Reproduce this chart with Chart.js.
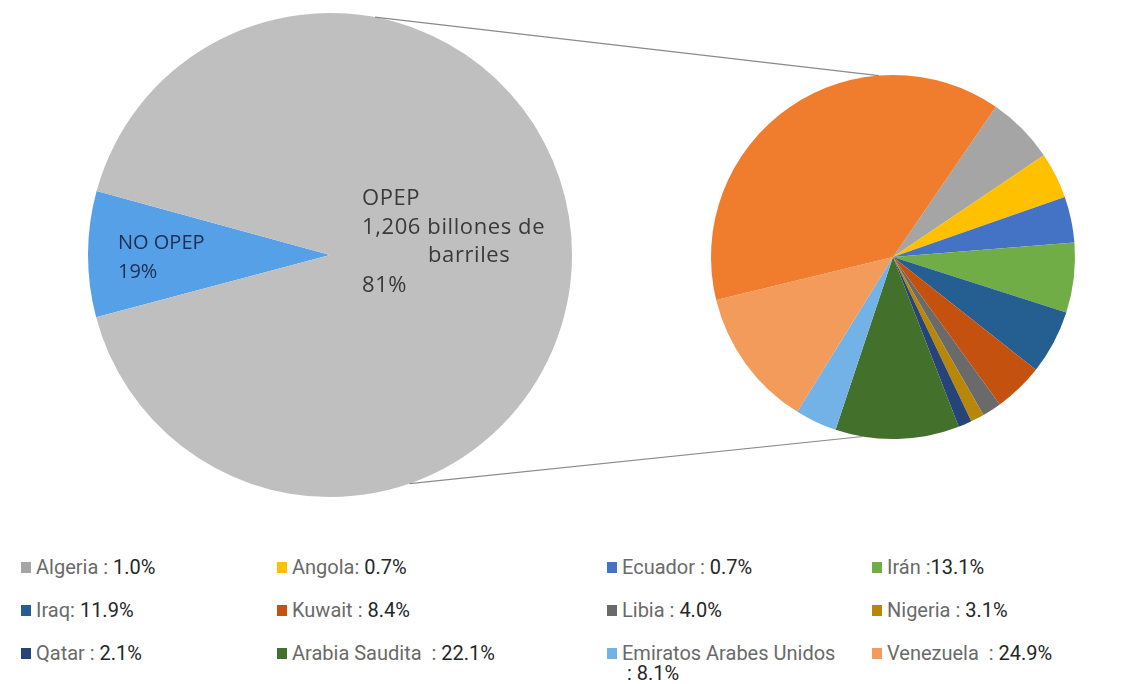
<!DOCTYPE html>
<html>
<head>
<meta charset="utf-8">
<script src="https://cdn.jsdelivr.net/npm/chart.js@4.4.1/dist/chart.umd.min.js"></script>
<style>
  html, body { margin: 0; padding: 0; background: #ffffff; }
  #wrap { position: relative; width: 1136px; height: 684px; overflow: hidden; background: #fff; }
  #wrap canvas { position: absolute; left: 0; top: 0; }
  .lg { position: absolute; font-family: "Liberation Sans Narrow", "Roboto", sans-serif; font-size: 20px; line-height: 20px; white-space: nowrap; }
  .lg .sw { position: absolute; left: 0; top: 5px; width: 10px; height: 11px; }
  .lg .tx { position: absolute; left: 15px; top: 0; color: #6a6a6a; }
  .lg .val { color: #262626; }
</style>
</head>
<body>
<div id="wrap">
  <canvas id="leftPie" width="1136" height="520"></canvas>
  <canvas id="rightPie" width="1136" height="520"></canvas>
</div>
<script>
// ---- Main pie (world reserves) ----
const mainCategories = ["NO OPEP", "OPEP"];
const mainShares = [8.4, 91.6];            // slice sizes as drawn in the picture
const mainLabelLines = [["NO OPEP", "19%"], ["OPEP", "1,206 billones de", "barriles", "81%"]];
const mainColors = ["#55a0e6", "#bfbfbf"];

// ---- Secondary pie (OPEP members) ----
const opepCategories = ["Algeria", "Angola", "Ecuador", "Irán", "Iraq", "Kuwait", "Libia", "Nigeria", "Qatar", "Arabia Saudita", "Emiratos Arabes Unidos", "Venezuela", ""];
const opepShares = [6.0, 4.1, 4.1, 6.2, 5.7, 4.4, 1.7, 1.2, 1.2, 11.0, 3.7, 12.4, 38.4]; // slice sizes as drawn
const opepLegendText = ["1.0%", "0.7%", "0.7%", "13.1%", "11.9%", "8.4%", "4.0%", "3.1%", "2.1%", "22.1%", "8.1%", "24.9%"];
const opepLegendSep = [" : ", ": ", " : ", " :", ": ", " : ", " : ", " : ", " : ", "  : ", "", "  : "];
const opepColors = ["#a5a5a5", "#ffc000", "#4472c4", "#70ad47", "#255e91", "#c5510f", "#6a6a6a", "#b8870a", "#264478", "#43702b", "#72b2e6", "#f39b5b", "#ef7d2d"];

const W = 1136, H = 520;

// Left pie geometry: centre (330,255), radius 242
const leftChart = new Chart(document.getElementById("leftPie"), {
  type: "pie",
  data: {
    labels: mainCategories,
    datasets: [{ data: mainShares, backgroundColor: mainColors, borderWidth: 0, hoverOffset: 0 }]
  },
  options: {
    responsive: false, animation: false, events: [],
    rotation: 255.1,
    layout: { padding: { left: 88, top: 13, right: W - 88 - 484, bottom: H - 13 - 484 } },
    plugins: { legend: { display: false }, tooltip: { enabled: false } }
  },
  plugins: [{
    id: "mainLabels",
    afterDatasetsDraw(chart) {
      const ctx = chart.ctx;
      const arc = chart.getDatasetMeta(0).data[0];
      const cx = arc.x, cy = arc.y;
      ctx.save();
      ctx.textBaseline = "middle";
      ctx.textAlign = "left";
      // NO OPEP
      ctx.font = '20px "Open Sans", sans-serif';
      ctx.fillStyle = "#1f2f52";
      const l0 = mainLabelLines[0];
      ctx.fillText(l0[0], cx - 212, cy - 12);
      ctx.fillText(l0[1], cx - 212, cy + 17);
      // OPEP
      ctx.font = '22px "Open Sans", sans-serif';
      if ("letterSpacing" in ctx) ctx.letterSpacing = "0.6px";
      ctx.fillStyle = "#3a3a3a";
      const l1 = mainLabelLines[1];
      ctx.fillText(l1[0], cx + 32, cy - 56);
      ctx.fillText(l1[1], cx + 32, cy - 27);
      ctx.fillText(l1[2], cx + 98, cy + 1);
      ctx.fillText(l1[3], cx + 32, cy + 31);
      ctx.restore();
    }
  }]
});

// Right pie geometry: centre (893,257), radius 182
const rightChart = new Chart(document.getElementById("rightPie"), {
  type: "pie",
  data: {
    labels: opepCategories,
    datasets: [{ data: opepShares, backgroundColor: opepColors, borderWidth: 0, hoverOffset: 0 }]
  },
  options: {
    responsive: false, animation: false, events: [],
    rotation: 34.4,
    layout: { padding: { left: 711, top: 75, right: W - 711 - 364, bottom: H - 75 - 364 } },
    plugins: { legend: { display: false }, tooltip: { enabled: false } }
  },
  plugins: [{
    id: "connectors",
    afterDatasetsDraw(chart) {
      const ctx = chart.ctx;
      const a = leftChart.getDatasetMeta(0).data[0];
      const b = chart.getDatasetMeta(0).data[0];
      const pt = (arc, deg) => {
        const t = deg * Math.PI / 180;
        return [arc.x + arc.outerRadius * Math.sin(t), arc.y - arc.outerRadius * Math.cos(t)];
      };
      ctx.save();
      ctx.strokeStyle = "#8a8a8a";
      ctx.lineWidth = 1.2;
      [[10.7, -4.5], [160.8, 189.5]].forEach(([da, db]) => {
        const p = pt(a, da), q = pt(b, db);
        ctx.beginPath();
        ctx.moveTo(p[0], p[1]);
        ctx.lineTo(q[0], q[1]);
        ctx.stroke();
      });
      ctx.restore();
    }
  }]
});

// ---- Legend (HTML text) ----
const colX = [21, 277, 607, 872];
const rowY = [557, 600, 643];
const wrap = document.getElementById("wrap");
opepLegendText.forEach((val, i) => {
  const r = Math.floor(i / 4), c = i % 4;
  const d = document.createElement("div");
  d.className = "lg";
  d.style.left = colX[c] + "px";
  d.style.top = rowY[r] + "px";
  const sw = document.createElement("span");
  sw.className = "sw";
  sw.style.background = opepColors[i];
  d.appendChild(sw);
  const tx = document.createElement("span");
  tx.className = "tx";
  if (opepCategories[i] === "Emiratos Arabes Unidos") {
    tx.innerHTML = opepCategories[i] + '<br><span class="val">&nbsp;: ' + val + '</span>';
  } else {
    tx.innerHTML = opepCategories[i] + opepLegendSep[i].replace(/ /g, "&nbsp;") + '<span class="val">' + val + '</span>';
  }
  d.appendChild(tx);
  wrap.appendChild(d);
});
</script>
</body>
</html>
